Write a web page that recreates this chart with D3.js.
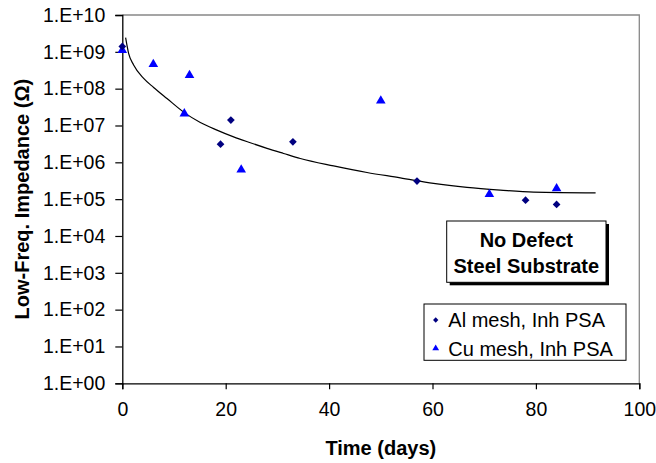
<!DOCTYPE html>
<html><head><meta charset="utf-8">
<script src="https://cdn.jsdelivr.net/npm/d3@7/dist/d3.min.js"></script>
<style>body{margin:0;background:#fff;}svg{display:block;font-family:"Liberation Sans",Arial,sans-serif;}</style>
</head><body><svg id="c" width="656" height="463"></svg>
<script>
const alDays = [0, 19, 21, 33, 57, 78, 84];
const alValues = [1.4e9, 3.1e6, 1.4e7, 3.6e6, 3.1e5, 9.4e4, 7.2e4];
const cuDays = [0, 6, 12, 13, 23, 50, 71, 84];
const cuValues = [1.1e9, 4.6e8, 2.1e7, 2.3e8, 6.3e5, 4.7e7, 1.35e5, 1.95e5];
const trendDays = [0.64, 1.22, 2.19, 4.13, 6.06, 8.64, 12.06, 15.09, 18.31, 21.53, 24.76, 27.98, 31.2, 34.43, 40.87, 47.33, 53.77, 60.2, 66.67, 73.1, 79.56, 91.55];
const trendValues = [2.42e9, 9.1e8, 4.4e8, 1.9e8, 1.08e8, 5.4e7, 2.2e7, 1.21e7, 7.5e6, 4.9e6, 3.4e6, 2.4e6, 1.74e6, 1.27e6, 8.0e5, 5.3e5, 3.8e5, 2.67e5, 2.08e5, 1.76e5, 1.55e5, 1.48e5];
const xTicks = [0, 20, 40, 60, 80, 100];
const yTicks = [1e0, 1e1, 1e2, 1e3, 1e4, 1e5, 1e6, 1e7, 1e8, 1e9, 1e10];
const seriesNames = ["Al mesh, Inh PSA", "Cu mesh, Inh PSA"];
const boxLines = ["No Defect", "Steel Substrate"];

const svg = d3.select("#c");
const L = 122.3, R = 639.3, T = 15, B = 383.3;
const x = d3.scaleLinear().domain([0, 100]).range([L, R]);
const y = d3.scaleLog().domain([1, 1e10]).range([B, T]);
const fmt = v => "1.E+" + String(Math.round(Math.log10(v))).padStart(2, "0");

// plot frame (top/right gray)
svg.append("path").attr("d", `M${L},${T}H${R}V${B}`).attr("fill", "none").attr("stroke", "#888").attr("stroke-width", 1.3);

// axes
const gx = svg.append("g").attr("transform", `translate(0,${B})`)
  .call(d3.axisBottom(x).tickValues(xTicks).tickSize(6).tickPadding(13).tickFormat(d3.format("d")));
const gy = svg.append("g").attr("transform", `translate(${L},0)`)
  .call(d3.axisLeft(y).tickValues(yTicks).tickSize(7).tickPadding(10).tickFormat(fmt));
[gx, gy].forEach(g => {
  g.select(".domain").attr("stroke", "#000").attr("stroke-width", 1.3);
  g.selectAll(".tick line").attr("stroke", "#000").attr("stroke-width", 1.2);
  g.selectAll("text").attr("font-size", 19.5).attr("fill", "#000").attr("font-family", '"Liberation Sans",Arial,sans-serif');
});

// trendline
const line = d3.line().x(d => x(d[0])).y(d => y(d[1])).curve(d3.curveMonotoneX);
svg.append("path").datum(trendDays.map((d, i) => [d, trendValues[i]]))
  .attr("d", line).attr("fill", "none").attr("stroke", "#000").attr("stroke-width", 1.2);

// markers
const diamond = d3.symbol().type(d3.symbolDiamond2).size(38);
const tri = d3.symbol().type(d3.symbolTriangle).size(40);
svg.append("g").selectAll("path").data(cuDays.map((d, i) => [d, cuValues[i]])).join("path")
  .attr("d", tri).attr("transform", d => `translate(${x(d[0])},${y(d[1])})`).attr("fill", "#0000ff");
svg.append("g").selectAll("path").data(alDays.map((d, i) => [d, alValues[i]])).join("path")
  .attr("d", diamond).attr("transform", d => `translate(${x(d[0])},${y(d[1])})`).attr("fill", "#000080");

// annotation box
const bx = 446.7, by = 221, bw = 159.3, bh = 61.3;
svg.append("rect").attr("x", bx + 3).attr("y", by + 3).attr("width", bw).attr("height", bh).attr("fill", "#000");
svg.append("rect").attr("x", bx).attr("y", by).attr("width", bw).attr("height", bh).attr("fill", "#fff").attr("stroke", "#000").attr("stroke-width", 1);
svg.append("g").selectAll("text").data(boxLines).join("text")
  .attr("x", bx + bw / 2).attr("y", (d, i) => by + 26 + i * 26).attr("text-anchor", "middle")
  .attr("font-size", 20).attr("font-weight", "bold").text(d => d);

// legend
const lx = 424, ly = 304, lw = 202, lh = 56.3;
svg.append("rect").attr("x", lx).attr("y", ly).attr("width", lw).attr("height", lh).attr("fill", "#fff").attr("stroke", "#000").attr("stroke-width", 1);
const lg = svg.append("g");
const rows = [ly + 16, ly + 44.3];
lg.append("path").attr("d", d3.symbol().type(d3.symbolDiamond2).size(18)).attr("transform", `translate(${lx + 11.7},${rows[0]})`).attr("fill", "#000080");
lg.append("path").attr("d", d3.symbol().type(d3.symbolTriangle).size(20)).attr("transform", `translate(${lx + 11.7},${rows[1]})`).attr("fill", "#0000ff");
lg.selectAll("text").data(seriesNames).join("text")
  .attr("x", lx + 24.3).attr("y", (d, i) => rows[i]).attr("dy", "0.36em")
  .attr("font-size", 20).text(d => d);

// axis titles
svg.append("text").attr("x", (L + R) / 2).attr("y", 455).attr("text-anchor", "middle")
  .attr("font-size", 20).attr("font-weight", "bold").text("Time (days)");
svg.append("text").attr("transform", `translate(29,${(T + B) / 2}) rotate(-90)`).attr("text-anchor", "middle")
  .attr("font-size", 20).attr("font-weight", "bold").text("Low-Freq. Impedance (Ω)");
</script></body></html>
